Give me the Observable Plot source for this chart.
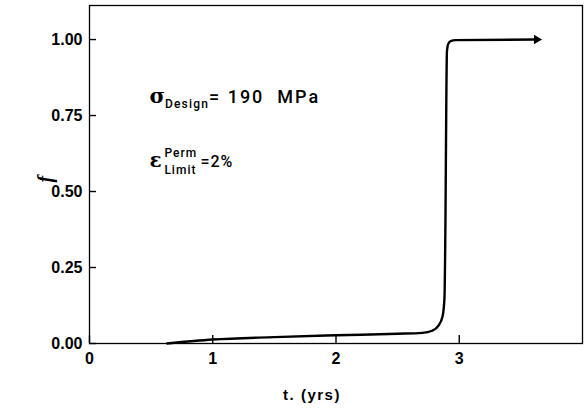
<!DOCTYPE html>
<html><head><meta charset="utf-8">
<script src="https://cdn.jsdelivr.net/npm/d3@7"></script>
<script src="https://cdn.jsdelivr.net/npm/@observablehq/plot@0.6"></script>
<style>
body{margin:0;background:#fff}
svg{font-family:"Liberation Sans",Arial,sans-serif}
</style>
</head><body><div id="chart"></div>
<script>
// data
const tYears = [0.63, 1.0, 1.5, 2.0, 2.5, 2.70, 2.78, 2.83, 2.865, 2.88, 2.888, 2.895, 2.90, 2.91, 2.93, 2.97, 3.62];
const fValues = [0.0, 0.013, 0.021, 0.027, 0.032, 0.035, 0.042, 0.058, 0.09, 0.15, 0.4, 0.8, 0.96, 0.985, 0.995, 0.998, 1.0];
const xTicks = [0, 1, 2, 3];
const yTicks = [0, 0.25, 0.5, 0.75, 1.0];
const yTickLabels = ["0.00", "0.25", "0.50", "0.75", "1.00"];
const xLabel = "t. (yrs)";
const yLabel = "f";

const curve = tYears.map((t, i) => ({t, f: fValues[i]}));
const endPoint = [curve[curve.length - 1]];

const plot = Plot.plot({
  width: 586,
  height: 410,
  marginLeft: 89,
  marginRight: 4,
  marginTop: 5,
  marginBottom: 67,
  x: {domain: [0, 4]},
  y: {domain: [0, 1.112]},
  style: {fontFamily: '"Liberation Sans", Arial, sans-serif', color: "#000", background: "#fff"},
  marks: [
    Plot.frame({stroke: "#000", strokeWidth: 1.3}),
    // labels
    Plot.axisX({ticks: xTicks, tickSize: 0, tickPadding: 9, tickFormat: d => String(d), fontSize: 16, fontWeight: "bold", label: null}),
    Plot.axisY({ticks: yTicks, tickSize: 0, tickPadding: 7, tickFormat: (d, i) => yTickLabels[i], fontSize: 16, fontWeight: "bold", label: null}),
    // inward ticks: outward ticks shifted inside the frame
    Plot.axisX({ticks: xTicks, tickSize: 8, dy: -8, tickFormat: () => "", label: null, stroke: "#000", strokeWidth: 1.4}),
    Plot.axisY({ticks: yTicks, tickSize: 7, dx: 7, tickFormat: () => "", label: null, stroke: "#000", strokeWidth: 1.4}),
    Plot.line(curve, {x: "t", y: "f", curve: "monotone-x", stroke: "#000", strokeWidth: 2.4}),
    Plot.dot(endPoint, {x: "t", y: "f", symbol: "triangle", rotate: 90, r: 3.5, fill: "#000", stroke: "none", dx: 1}),
    Plot.text([xLabel], {frameAnchor: "bottom", dy: 56, dx: -24, fontSize: 15, fontWeight: "bold"}),
    Plot.text([yLabel], {frameAnchor: "left", dx: -44, dy: 8, rotate: -90, fontSize: 20, fontStyle: "italic", fontWeight: "bold", fontFamily: "Liberation Serif, serif"})
  ]
});
document.getElementById("chart").appendChild(plot);
d3.select(plot).selectAll("text").filter(function(){ return this.textContent === xLabel; }).style("letter-spacing", "1.5px");

// annotations placed through the plot's scales
const sx = plot.scale("x"), sy = plot.scale("y");
const svg = d3.select(plot);
const x0 = sx.apply(0.49);
const t1 = svg.append("text").attr("text-anchor", "start").attr("x", x0).attr("y", sy.apply(0.79)).attr("font-size", 18).attr("font-family", "Roboto, sans-serif").attr("font-weight", 500);
t1.append("tspan").text("σ").attr("font-size", 21).attr("font-weight", "bold").attr("font-family", "DejaVu Serif, serif");
t1.append("tspan").text("Design").attr("font-size", 12).attr("dy", 5).style("letter-spacing", "1.2px");
t1.append("tspan").text("= 190  MPa").attr("dy", -5).style("letter-spacing", "2px");

const t2 = svg.append("text").attr("text-anchor", "start").attr("x", x0).attr("y", sy.apply(0.58)).attr("font-size", 16).attr("font-family", "Roboto, sans-serif").attr("font-weight", 500);
t2.append("tspan").text("ε").attr("font-size", 20).attr("font-weight", "bold").attr("font-family", "DejaVu Serif, serif");
const xPerm = x0 + 15;
t2.append("tspan").text("Perm").attr("font-size", 12).attr("x", xPerm).attr("dy", -10).style("letter-spacing", "1px");
t2.append("tspan").text("Limit").attr("font-size", 12).attr("x", xPerm).attr("dy", 17).style("letter-spacing", "1px");
t2.append("tspan").text("=2%").attr("x", xPerm + 36).attr("dy", -7).style("letter-spacing", "1px");
</script>
</body></html>
